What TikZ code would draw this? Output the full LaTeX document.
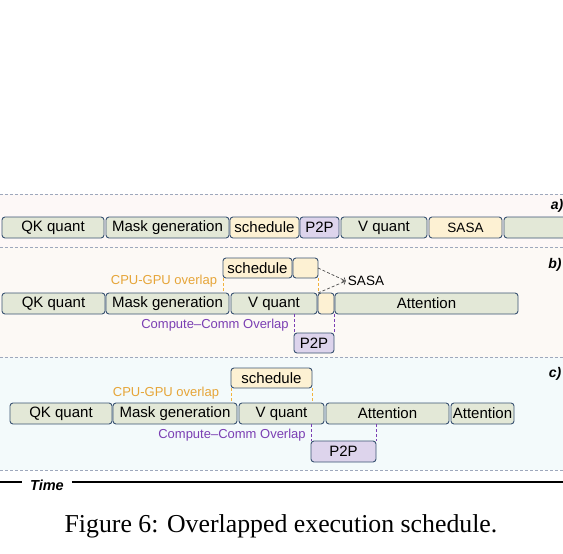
\documentclass[tikz,border=0pt]{standalone}
\usepackage{fontspec}
\setmainfont{Liberation Sans}
\newfontfamily\capfont{Liberation Serif}
\usetikzlibrary{positioning, arrows.meta}

\definecolor{gfill}{HTML}{E3E8D7}
\definecolor{yfill}{HTML}{FDF1D3}
\definecolor{pfill}{HTML}{DDD4EC}
\definecolor{edgecol}{HTML}{3A5372}
\definecolor{orangetxt}{HTML}{E6A538}
\definecolor{orangeln}{HTML}{F2B33D}
\definecolor{purpletxt}{HTML}{7B3FB3}
\definecolor{sepcol}{HTML}{9EA8BC}
\definecolor{bga}{HTML}{FDF8F7}
\definecolor{bgb}{HTML}{FCF9F5}
\definecolor{bgc}{HTML}{F3FAFB}

\begin{document}
\begin{tikzpicture}[
        x=1pt, y=-1pt,
        font=\fontsize{15}{18}\selectfont,
        >=Latex,
        task/.style={
            draw=edgecol,
            line width=0.9pt,
            rounded corners=3pt,
            minimum height=21pt,
            inner sep=0pt,
            outer sep=0pt,
            anchor=north west
        },
        comp/.style={task, fill=gfill},
        sched/.style={task, fill=yfill},
        comm/.style={task, fill=pfill},
        olap/.style={font=\fontsize{13}{15}\selectfont, inner sep=1pt},
        bandlabel/.style={font=\fontsize{14}{16}\selectfont\bfseries\itshape, inner sep=0pt},
        sep/.style={draw=sepcol, line width=0.7pt, dash pattern=on 3pt off 2pt},
        odash/.style={draw=orangeln, line width=0.9pt, dash pattern=on 3pt off 2pt},
        pdash/.style={draw=purpletxt, line width=0.9pt, dash pattern=on 3pt off 2pt}
    ]
    \useasboundingbox (0,0) rectangle (563,554);

    % --- BANDS ---
    \fill[bga] (0,194) rectangle (563,247);
    \fill[bgb] (0,247) rectangle (563,357);
    \fill[bgc] (0,357) rectangle (563,470);
    \foreach \yy in {194,247,357,470}
        \draw[sep] (0,\yy) -- (563,\yy);

    \node[bandlabel] (laba) at (557,206) {a)};
    \node[bandlabel] (labb) at (555,265) {b)};
    \node[bandlabel] (labc) at (555,374) {c)};

    % --- a) SEQUENTIAL ---
    \node[comp, minimum width=102pt] (qka) at (2,217) {QK quant};
    \node[comp, minimum width=123pt, right=2pt of qka] (mga) {Mask generation};
    \node[sched, minimum width=69pt, right=1pt of mga] (sca) {schedule};
    \node[comm, minimum width=39pt, right=1pt of sca] (p2pa) {P2P};
    \node[comp, minimum width=86pt, right=2pt of p2pa] (vqa) {V quant};
    \node[sched, minimum width=73pt, right=2pt of vqa, font=\fontsize{13.5}{16}\selectfont] (sasaa) {SASA};
    \node[comp, minimum width=72pt, right=2pt of sasaa] (ata) {};

    % --- b) OVERLAP ---
    \node[sched, minimum width=69pt, minimum height=20pt] (scb) at (223,258) {schedule};
    \node[sched, minimum width=25pt, minimum height=20pt, right=1pt of scb] (ssb) {};
    \node[comp, minimum width=103pt] (qkb) at (2,293) {QK quant};
    \node[comp, minimum width=123pt, right=1pt of qkb] (mgb) {Mask generation};
    \node[comp, minimum width=86pt, right=2pt of mgb] (vqb) {V quant};
    \node[sched, minimum width=16pt, right=1pt of vqb] (srb) {};
    \node[comp, minimum width=183pt, right=1pt of srb] (atb) {Attention};
    \node[comm, minimum width=40pt, minimum height=20pt] (p2pb) at (294,333) {P2P};

    \node[olap, text=orangetxt] (cgb) at (164,281) {CPU-GPU overlap};
    \node[olap, text=purpletxt] (ccb) at (215,325) {Compute–Comm Overlap};
    \node[font=\fontsize{13.5}{16}\selectfont, inner sep=2pt] (sasab) at (366,281) {SASA};

    \draw[odash] (scb.south west) -- (scb.south west |- mgb.north);
    \draw[odash] (ssb.south east) -- (ssb.south east |- srb.north);
    \draw[pdash] (p2pb.north west |- vqb.south) -- (p2pb.north west);
    \draw[pdash] (p2pb.north east |- srb.south) -- (p2pb.north east);
    \draw[sep, draw=black!70, ->, >={Straight Barb[length=2.5pt, width=5pt]}] (ssb.east) -- (sasab.west);
    \draw[sep, draw=black!70, ->, >={Straight Barb[length=2.5pt, width=5pt]}] (srb.north west) -- (sasab.west);

    % --- c) FULL OVERLAP ---
    \node[sched, minimum width=81pt, minimum height=20pt] (scc) at (231,368) {schedule};
    \node[comp, minimum width=102pt] (qkc) at (10,403) {QK quant};
    \node[comp, minimum width=124pt, right=1pt of qkc] (mgc) {Mask generation};
    \node[comp, minimum width=85pt, right=2pt of mgc] (vqc) {V quant};
    \node[comp, minimum width=123pt, right=2pt of vqc] (atc) {Attention};
    \node[comp, minimum width=63pt, right=2pt of atc] (atc2) {Attention};
    \node[comm, minimum width=65pt] (p2pc) at (311,441) {P2P};

    \node[olap, text=orangetxt] (cgc) at (166,393) {CPU-GPU overlap};
    \node[olap, text=purpletxt] (ccc) at (232,435) {Compute–Comm Overlap};

    \draw[odash] (scc.south west) -- (scc.south west |- mgc.north);
    \draw[odash] (scc.south east) -- (scc.south east |- vqc.north);
    \draw[pdash] (p2pc.north west |- vqc.south) -- (p2pc.north west);
    \draw[pdash] (p2pc.north east |- atc.south) -- (p2pc.north east);

    % --- TIME AXIS ---
    \node[font=\fontsize{14.5}{17}\selectfont\bfseries\itshape, inner ysep=0pt, inner xsep=8pt] (time) at (47,485) {Time};
    \coordinate (t0) at (0,482);
    \coordinate (t1) at (563,482);
    \draw[line width=1.8pt] (t0) -- (t0 -| time.west);
    \draw[line width=1.8pt] (t1 -| time.east) -- (t1);

    % --- CAPTION ---
    \node[font=\capfont\fontsize{25.8}{30}\selectfont] (cap) at (281,526) {Figure 6: Overlapped execution schedule.};

\end{tikzpicture}
\end{document}
